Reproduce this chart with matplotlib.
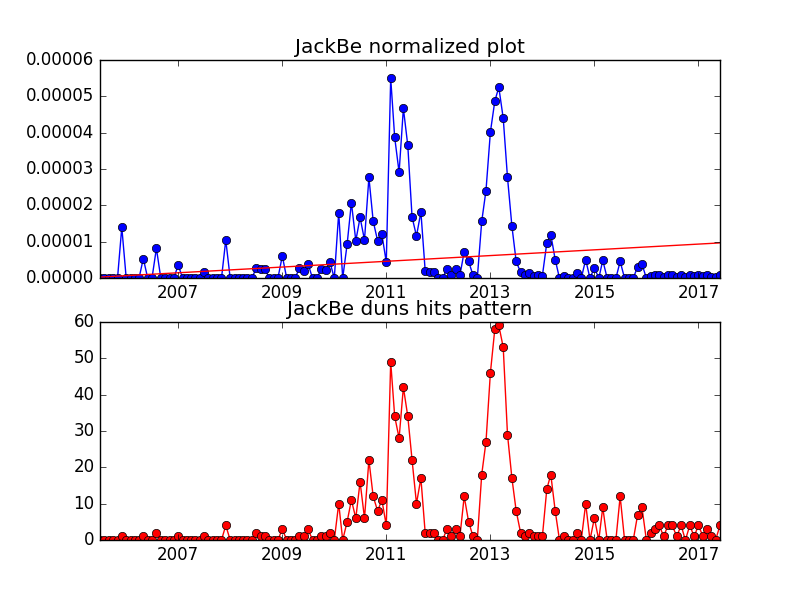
import matplotlib
matplotlib.use('Agg')
import matplotlib.pyplot as plt
import matplotlib.dates as mdates
import numpy as np
import pandas as pd

plt.style.use('classic')

first_month = '2005-07-01'

# monthly hit counts, one row per Jul..Jun year
hits = [
    0, 0, 0, 0, 0, 1, 0, 0, 0, 0, 1, 0,
    0, 2, 0, 0, 0, 0, 1, 0, 0, 0, 0, 0,
    1, 0, 0, 0, 0, 4, 0, 0, 0, 0, 0, 0,
    2, 1, 1, 0, 0, 0, 3, 0, 0, 0, 1, 1,
    3, 0, 0, 1, 1, 2, 0, 10, 0, 5, 11, 6,
    16, 6, 22, 12, 8, 11, 4, 49, 34, 28, 42, 34,
    22, 10, 17, 2, 2, 2, 0, 0, 3, 1, 3, 1,
    12, 5, 1, 0, 18, 27, 46, 58, 59, 53, 29, 17,
    8, 2, 1, 2, 1, 1, 1, 14, 18, 8, 0, 1,
    0, 0, 2, 0, 10, 0, 6, 0, 9, 0, 0, 0,
    12, 0, 0, 0, 7, 9, 0, 2, 3, 4, 1, 4,
    4, 1, 4, 0, 4, 1, 4, 1, 3, 1, 0, 4,
]

# normalized hits, in units of 1e-5
norm_e5 = [
    0, 0, 0, 0, 0, 1.40, 0, 0, 0, 0, 0.54, 0,
    0, 0.82, 0, 0, 0, 0, 0.36, 0, 0, 0, 0, 0,
    0.16, 0, 0, 0, 0, 1.05, 0, 0, 0, 0, 0, 0,
    0.27, 0.26, 0.26, 0, 0, 0, 0.61, 0, 0, 0, 0.28, 0.20,
    0.39, 0, 0, 0.25, 0.22, 0.45, 0, 1.80, 0, 0.93, 2.08, 1.03,
    1.67, 1.05, 2.77, 1.57, 1.03, 1.21, 0.44, 5.50, 3.87, 2.91, 4.67, 3.65,
    1.68, 1.16, 1.82, 0.21, 0.18, 0.18, 0, 0, 0.26, 0.08, 0.26, 0.08,
    0.73, 0.46, 0.08, 0, 1.56, 2.41, 4.02, 4.87, 5.25, 4.40, 2.77, 1.43,
    0.46, 0.16, 0.08, 0.15, 0.07, 0.08, 0.07, 0.97, 1.20, 0.51, 0, 0.06,
    0, 0, 0.13, 0, 0.51, 0, 0.29, 0, 0.49, 0, 0, 0,
    0.46, 0, 0, 0, 0.32, 0.39, 0, 0.05, 0.08, 0.10, 0.04, 0.09,
    0.08, 0.04, 0.08, 0.02, 0.09, 0.05, 0.10, 0.05, 0.09, 0.04, 0.02, 0.10,
]

# linear trend on the normalized plot, value at first and last month
trend_e5 = [0.03, 0.97]
tick_years = [2007, 2009, 2011, 2013, 2015, 2017]

months = pd.date_range(first_month, periods=len(hits), freq='MS').to_pydatetime()
normalized = np.array(norm_e5) * 1e-5
trend = np.array(trend_e5) * 1e-5
ticks = [pd.Timestamp(year=y, month=1, day=1).to_pydatetime() for y in tick_years]

fig, axs = plt.subplots(2, 1, figsize=(8, 6), dpi=100, facecolor='white')

axs[0].plot(months, normalized, 'bo-', mec='k')
axs[0].plot([months[0], months[-1]], trend, 'r-')
axs[0].set_title('JackBe normalized plot')
axs[0].set_ylim(0, 0.00006)

axs[1].plot(months, hits, 'ro-', mec='k')
axs[1].set_title('JackBe duns hits pattern')
axs[1].set_ylim(0, 60)

for ax in axs:
    ax.set_xlim(months[0], months[-1])
    ax.set_xticks(ticks)
    ax.xaxis.set_major_formatter(mdates.DateFormatter('%Y'))

fig.savefig('out.png', facecolor='white')
